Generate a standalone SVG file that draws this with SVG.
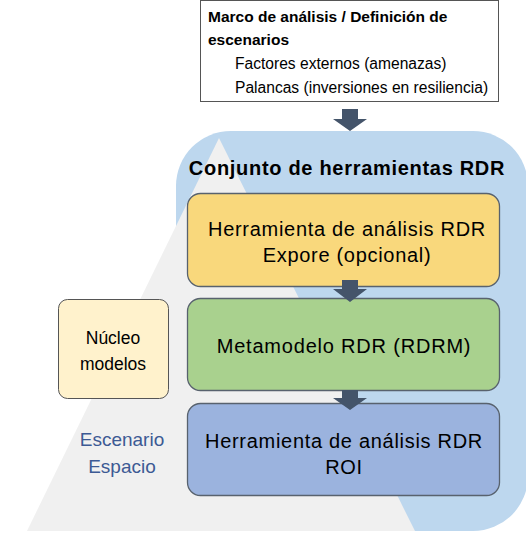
<svg xmlns="http://www.w3.org/2000/svg" width="526" height="560" viewBox="0 0 526 560">
<style>
text{font-family:"Liberation Sans",Arial,sans-serif;fill:#000}
.box{stroke:#58626e;stroke-width:1.3}
.big{font-size:20px;text-anchor:middle;letter-spacing:0.7px}
.arr{fill:#44546a}
</style>
<rect x="0" y="0" width="526" height="560" fill="#fff"/>
<g id="background">
<rect x="176" y="131" width="352" height="400" rx="55" ry="55" fill="#bdd7ee"/>
<polygon points="219,138 27,531 415,531" fill="#f0f0f0"/>
</g>
<g id="framework">
<rect x="200.5" y="0.5" width="298" height="101" fill="#fff" stroke="#555" stroke-width="1"/>
<text x="208" y="22" font-size="15.5" font-weight="bold">Marco de análisis / Definición de</text>
<text x="208" y="45" font-size="15.5" font-weight="bold">escenarios</text>
<text x="235" y="69" font-size="15.6">Factores externos (amenazas)</text>
<text x="235" y="93" font-size="15.6">Palancas (inversiones en resiliencia)</text>
</g>
<g id="title">
<text x="347" y="175" font-size="20" font-weight="bold" text-anchor="middle" letter-spacing="0.7">Conjunto de herramientas RDR</text>
</g>
<g id="explore">
<rect class="box" x="187.5" y="193.5" width="312" height="93" rx="13" fill="#f9d87c"/>
<text class="big" x="347" y="236">Herramienta de análisis RDR</text>
<text class="big" x="347" y="262">Expore (opcional)</text>
</g>
<g id="rdrm">
<rect class="box" x="187.5" y="298.5" width="312" height="92" rx="13" fill="#a9d18e"/>
<text class="big" x="344" y="353" style="letter-spacing:0.8px">Metamodelo RDR (RDRM)</text>
</g>
<g id="roi">
<rect class="box" x="187.5" y="403.5" width="312" height="92" rx="13" fill="#9bb3de"/>
<text class="big" x="344" y="448">Herramienta de análisis RDR</text>
<text class="big" x="344" y="474">ROI</text>
</g>
<g id="nucleo">
<rect x="58.5" y="299.5" width="110" height="99" rx="9" fill="#fff2cc" stroke="#555" stroke-width="1"/>
<text x="113" y="344" font-size="17.5" text-anchor="middle">Núcleo</text>
<text x="113" y="370" font-size="17.5" text-anchor="middle">modelos</text>
</g>
<g id="escenario">
<text x="122" y="446" font-size="19" text-anchor="middle" style="fill:#3c5a94">Escenario</text>
<text x="122" y="473" font-size="19" text-anchor="middle" style="fill:#3c5a94">Espacio</text>
</g>
<g id="connectors">
<polygon class="arr" points="342,109 358,109 358,119 367,119 350,131 333,119 342,119"/>
<polygon class="arr" points="342,280 358,280 358,289 367,289 350,302 333,289 342,289"/>
<polygon class="arr" points="342,390 358,390 358,398 367,398 350,410 333,398 342,398"/>
</g>
</svg>
